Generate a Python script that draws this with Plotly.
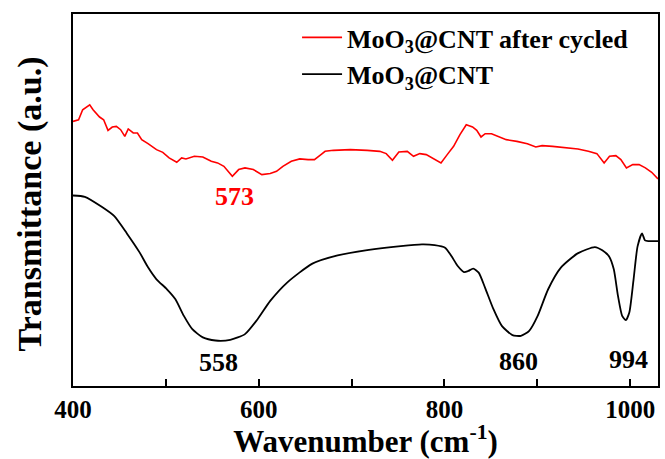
import plotly.graph_objects as go

# Wavenumber (cm^-1) and transmittance (arbitrary units)
red_x = [400, 406, 410.4, 418, 421.6, 428.6, 433, 437.7, 442.3, 446.7, 451.3, 455.8, 459.5, 464.9,
         469.4, 474, 480.8, 489.9, 496.7, 503.5, 511.7, 517, 521.6, 530.7, 539.8, 548.9, 555.7,
         562.5, 571.6, 578.4, 585.2, 594.2, 603.4, 612.4, 619.2, 626, 635.1, 644.2, 653.2, 660,
         667, 671.5, 680.5, 698.7, 716.8, 730.4, 737.3, 744, 750.9, 760, 766.7, 773.5, 780.4,
         789.4, 796.3, 803, 809.9, 816.7, 823.5, 830.3, 834.8, 839.4, 843.9, 850.7, 857.5, 866.6,
         878, 889.3, 898.4, 905.2, 916.5, 930.2, 943.8, 955, 964.2, 972, 977.8, 984.6, 990, 996,
         1002.8, 1009.6, 1016.4, 1023.2, 1030]
red_y = [265.3, 267, 277, 282, 277, 269.7, 267, 256.3, 259.7, 260.3, 257, 250.3, 257.7, 253.7,
         253.7, 247, 243, 237, 234.3, 228.7, 224.3, 228.7, 227.7, 230.3, 229.7, 225.3, 223.7,
         220.3, 210.3, 217, 218.7, 217, 212, 213, 215.3, 220.3, 225.3, 227.7, 227, 227,
         232, 235.3, 236.3, 237, 236.3, 235.3, 233, 226.3, 234.7, 235.3, 230.3, 233, 232,
         227.7, 223.7, 232, 240.3, 252, 262, 259.7, 256.3, 249.7, 253, 253, 250.3, 247,
         245.3, 243, 239.7, 241, 240.3, 239, 237.7, 235.3, 233, 223.7, 230.3, 231, 227, 218.7,
         222, 222, 218.7, 214.3, 207.7]

black_x = [400, 412.7, 430.9, 444.5, 458, 471.7, 480.8, 489.9, 501.2, 510.3, 519.4, 528.5, 539.8,
           553.4, 569.3, 585.2, 598.8, 612.4, 630.6, 657.8, 685, 716.8, 753, 775.8, 789.4, 800.7,
           807.5, 814.3, 821.1, 825.6, 831, 836.9, 843.7, 852.8, 861.8, 873.2, 882.3, 891.3,
           900.4, 911.7, 925.4, 943.5, 962, 970, 977.5, 982.4, 986.9, 991.4, 995.3, 999.1,
           1003.7, 1008, 1012.8, 1016, 1020, 1030]
black_y = [191, 189.7, 179.7, 170.3, 153, 134, 119, 107, 97, 87, 70.3, 57, 48.7,
           45.6, 46.3, 52, 67, 85.3, 103.7, 122.7, 131, 136.3, 140.3, 142, 141.3, 138.7,
           130.3, 120.3, 114.3, 115.3, 117.7, 113.7, 98.7, 77, 60.3, 51, 50.3, 55.3,
           70.3, 97, 118.7, 133, 139.3, 136, 129.7, 117, 90.3, 70.3, 66, 73.7,
           107, 140, 153, 146, 145.3, 145.3]

peak_x = [574, 557, 880, 998]
peak_y = [190, 24, 25, 27]
peak_labels = ["573", "558", "860", "994"]
peak_colors = ["#ff0000", "black", "black", "black"]

major_ticks = [400, 600, 800, 1000]
major_labels = ["400", "600", "800", "1000"]
minor_ticks = [500, 700, 900]

FONT = "Liberation Serif"

fig = go.Figure()
fig.add_trace(go.Scatter(x=red_x, y=red_y, mode="lines", name="<b>MoO<sub>3</sub>@CNT after cycled</b>",
                         line=dict(color="#ff0000", width=1.6)))
fig.add_trace(go.Scatter(x=black_x, y=black_y, mode="lines", name="<b>MoO<sub>3</sub>@CNT</b>",
                         line=dict(color="black", width=1.8, shape="spline", smoothing=0.6)))

for px, py, t, c in zip(peak_x, peak_y, peak_labels, peak_colors):
    fig.add_annotation(x=px, y=py, text="<b>" + t + "</b>", showarrow=False,
                       font=dict(family=FONT, size=26, color=c))

# y-axis title placed as rotated text left of the frame
fig.add_annotation(xref="paper", yref="paper", x=-0.074, y=0.49, xanchor="center", yanchor="middle",
                   text="<b>Transmittance (a.u.)</b>", textangle=-90, showarrow=False,
                   font=dict(family=FONT, size=34, color="black"))

fig.update_layout(
    width=665, height=459,
    margin=dict(l=73, r=5, t=14, b=72),
    paper_bgcolor="white", plot_bgcolor="white",
    font=dict(family=FONT, color="black"),
    showlegend=True,
    legend=dict(x=0.383, y=1.0, xanchor="left", yanchor="top",
                bgcolor="rgba(0,0,0,0)", font=dict(family=FONT, size=26, color="black"),
                tracegroupgap=0, itemwidth=40),
    xaxis=dict(range=[400, 1030], tickvals=major_ticks, ticktext=major_labels,
               ticks="inside", ticklen=7, tickwidth=1.5, tickcolor="black",
               minor=dict(tickvals=minor_ticks, ticks="inside", ticklen=7, tickwidth=1.5,
                          tickcolor="black", showgrid=False),
               showline=True, linewidth=2, linecolor="black", mirror=True,
               showgrid=False, zeroline=False,
               tickfont=dict(family=FONT, size=25, color="black", weight="bold"),
               title=dict(text="<b>Wavenumber (cm<sup>-1</sup>)</b>", standoff=9,
                          font=dict(family=FONT, size=31, color="black"))),
    yaxis=dict(range=[0, 373], showticklabels=False, ticks="",
               showline=True, linewidth=2, linecolor="black", mirror=True,
               showgrid=False, zeroline=False),
)

fig.write_html("out.html")
